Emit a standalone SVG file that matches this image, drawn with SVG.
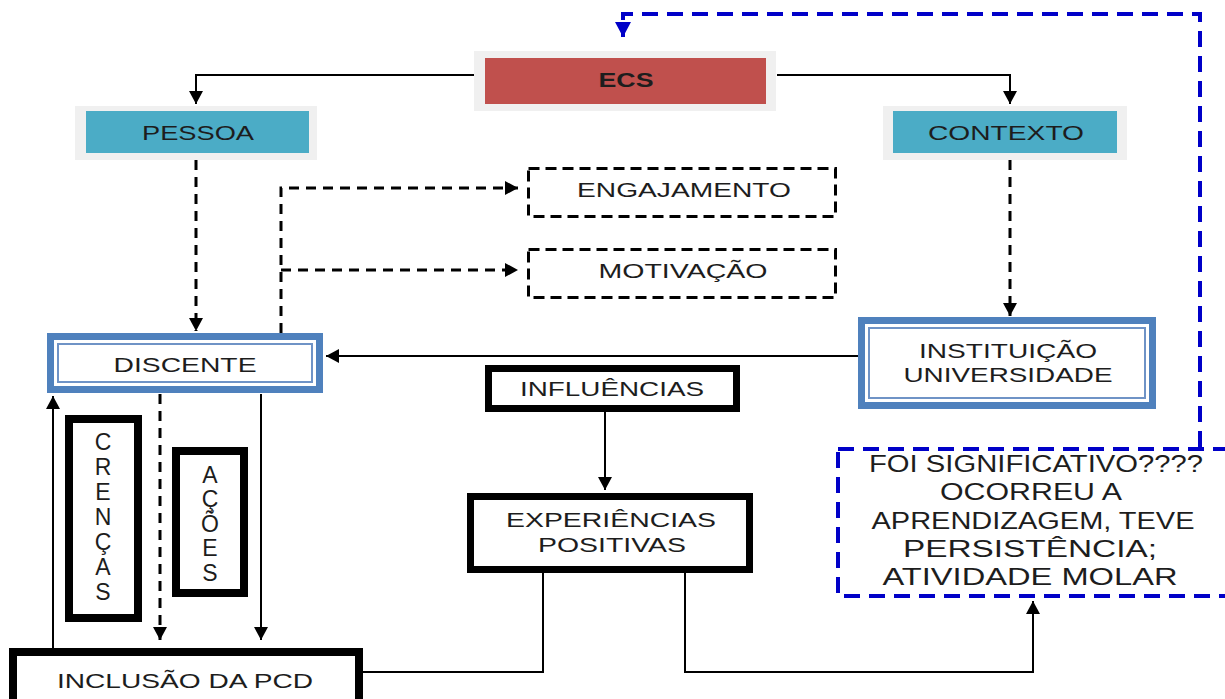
<svg xmlns="http://www.w3.org/2000/svg" width="1225" height="699" viewBox="0 0 1225 699">
  <style>
    .t { font-family: "Liberation Sans", Arial, sans-serif; font-size: 21px; fill: #1d1d1d; text-anchor: middle; }
    .tb { font-weight: bold; }
    .big { font-size: 23px; }
    .ltr { font-size: 23px; }
    .halo { fill: #f0f0f0; }
    .red { fill: #c0504d; }
    .teal { fill: #4bacc6; }
    .dbl-out { fill: #ffffff; stroke: #4f81bd; stroke-width: 7; }
    .dbl-in { fill: none; stroke: #6f93c6; stroke-width: 2; }
    .thick { fill: #ffffff; stroke: #000000; stroke-width: 7; }
    .dbox { fill: #ffffff; stroke: #000000; stroke-width: 3; stroke-dasharray: 11 6; }
    .bbox { fill: none; stroke: #0000c8; stroke-width: 4; stroke-dasharray: 16 9; }
    .ln { fill: none; stroke: #000000; stroke-width: 2; }
    .dl { fill: none; stroke: #000000; stroke-width: 3; stroke-dasharray: 10 7; }
    .bl { fill: none; stroke: #0000c8; stroke-width: 4; stroke-dasharray: 16 9; }
  </style>
  <defs>
    <marker id="ah" markerUnits="userSpaceOnUse" markerWidth="14" markerHeight="14" refX="13" refY="7" orient="auto">
      <path d="M0,0 L13,7 L0,14 z" fill="#000000"/>
    </marker>
    <marker id="ahb" markerUnits="userSpaceOnUse" markerWidth="16" markerHeight="16" refX="15" refY="8" orient="auto">
      <path d="M0,0 L15,8 L0,16 z" fill="#0000c8"/>
    </marker>
  </defs>
  <rect width="1225" height="699" fill="#ffffff"/>

  <!-- connectors -->
  <g id="connectors">
    <path class="ln" d="M474,75 H196 V104" marker-end="url(#ah)"/>
    <path class="ln" d="M777,75 H1010 V104" marker-end="url(#ah)"/>
    <path class="dl" d="M196,160 V331" marker-end="url(#ah)"/>
    <path class="dl" d="M1010,160 V316" marker-end="url(#ah)"/>
    <path class="ln" d="M858,356 H326" marker-end="url(#ah)"/>
    <path class="dl" d="M281,333 V188 H518" marker-end="url(#ah)"/>
    <path class="dl" d="M281,270 H518" marker-end="url(#ah)"/>
    <path class="dl" d="M160,394 V640" marker-end="url(#ah)"/>
    <path class="ln" d="M261,394 V640" marker-end="url(#ah)"/>
    <path class="ln" d="M53,648 V396" marker-end="url(#ah)"/>
    <path class="ln" d="M605,412 V490" marker-end="url(#ah)"/>
    <path class="ln" d="M543,573 V672 H363"/>
    <path class="ln" d="M685,573 V672 H1033 V601" marker-end="url(#ah)"/>
    <path class="bl" d="M1200,447 V14 H623 V37" marker-end="url(#ahb)"/>
  </g>

  <!-- top node -->
  <g id="ecs">
    <rect class="halo" x="474" y="51" width="302" height="60"/>
    <rect class="red" x="485" y="58" width="281" height="46"/>
    <text class="t tb" x="626" y="87" textLength="55" lengthAdjust="spacingAndGlyphs">ECS</text>
  </g>

  <g id="pessoa">
    <rect class="halo" x="75" y="106" width="242" height="54"/>
    <rect class="teal" x="86" y="111" width="223" height="42"/>
    <text class="t" x="198" y="140" textLength="112" lengthAdjust="spacingAndGlyphs">PESSOA</text>
  </g>

  <g id="contexto">
    <rect class="halo" x="883" y="106" width="244" height="54"/>
    <rect class="teal" x="893" y="111" width="224" height="42"/>
    <text class="t" x="1006" y="140" textLength="156" lengthAdjust="spacingAndGlyphs">CONTEXTO</text>
  </g>

  <g id="engajamento">
    <rect class="dbox" x="528.5" y="168.5" width="307" height="48"/>
    <text class="t" x="684" y="197" textLength="214" lengthAdjust="spacingAndGlyphs">ENGAJAMENTO</text>
  </g>

  <g id="motivacao">
    <rect class="dbox" x="528.5" y="249.5" width="307" height="48"/>
    <text class="t" x="683" y="278" textLength="169" lengthAdjust="spacingAndGlyphs">MOTIVAÇÃO</text>
  </g>

  <g id="discente">
    <rect class="dbl-out" x="50.5" y="336.5" width="269" height="53"/>
    <rect class="dbl-in" x="58" y="344" width="254" height="38"/>
    <text class="t" x="185" y="372" textLength="143" lengthAdjust="spacingAndGlyphs">DISCENTE</text>
  </g>

  <g id="instituicao">
    <rect class="dbl-out" x="861.5" y="320.5" width="291" height="85"/>
    <rect class="dbl-in" x="869" y="328" width="276" height="70"/>
    <text class="t" x="1008" y="358" textLength="178" lengthAdjust="spacingAndGlyphs">INSTITUIÇÃO</text>
    <text class="t" x="1008" y="382" textLength="209" lengthAdjust="spacingAndGlyphs">UNIVERSIDADE</text>
  </g>

  <g id="influencias">
    <rect class="thick" x="488.5" y="368.5" width="248" height="40"/>
    <text class="t" x="612" y="396" textLength="184" lengthAdjust="spacingAndGlyphs">INFLUÊNCIAS</text>
  </g>

  <g id="experiencias">
    <rect class="thick" x="470.5" y="496.5" width="279" height="73"/>
    <text class="t" x="611" y="527" textLength="210" lengthAdjust="spacingAndGlyphs">EXPERIÊNCIAS</text>
    <text class="t" x="612" y="552" textLength="148" lengthAdjust="spacingAndGlyphs">POSITIVAS</text>
  </g>

  <!-- vertical words, one letter per line -->
  <g id="crencas">
    <rect class="thick" x="69" y="419" width="69" height="199" style="stroke-width:8"/>
    <text class="t ltr"><tspan x="103" y="450">C</tspan><tspan x="103" y="475">R</tspan><tspan x="103" y="500">E</tspan><tspan x="103" y="525">N</tspan><tspan x="103" y="550">Ç</tspan><tspan x="103" y="575">A</tspan><tspan x="103" y="600">S</tspan></text>
  </g>

  <g id="acoes">
    <rect class="thick" x="176" y="451" width="68" height="142" style="stroke-width:8"/>
    <text class="t ltr"><tspan x="210" y="483">A</tspan><tspan x="210" y="507">Ç</tspan><tspan x="210" y="532">Õ</tspan><tspan x="210" y="556">E</tspan><tspan x="210" y="581">S</tspan></text>
  </g>

  <g id="inclusao">
    <rect class="thick" x="13" y="652" width="346" height="60" style="stroke-width:8"/>
    <text class="t" x="185" y="688" textLength="256" lengthAdjust="spacingAndGlyphs">INCLUSÃO DA PCD</text>
  </g>

  <g id="significativo">
    <rect class="bbox" x="838" y="449" width="400" height="147"/>
    <text class="t big" x="1036" y="472" textLength="334" lengthAdjust="spacingAndGlyphs">FOI SIGNIFICATIVO????</text>
    <text class="t big" x="1031" y="500" textLength="182" lengthAdjust="spacingAndGlyphs">OCORREU A</text>
    <text class="t big" x="1033" y="529" textLength="323" lengthAdjust="spacingAndGlyphs">APRENDIZAGEM, TEVE</text>
    <text class="t big" x="1030" y="557" textLength="254" lengthAdjust="spacingAndGlyphs">PERSISTÊNCIA;</text>
    <text class="t big" x="1030" y="585" textLength="295" lengthAdjust="spacingAndGlyphs">ATIVIDADE MOLAR</text>
  </g>
</svg>
